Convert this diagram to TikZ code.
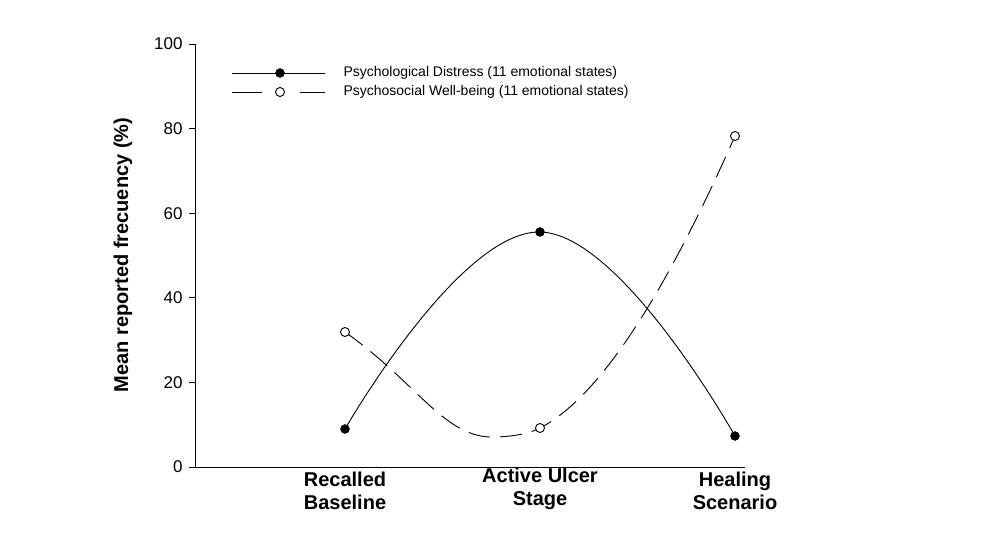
\documentclass[tikz,border=0pt]{standalone}
\usepackage{fontspec}
\setmainfont{Liberation Sans}
\begin{document}
\begin{tikzpicture}[x=1pt,y=-1pt,
  filled/.style={circle,draw=black,fill=black,inner sep=0pt,minimum size=9pt},
  hollow/.style={circle,draw=black,fill=white,line width=0.9pt,inner sep=0pt,minimum size=9pt},
  tick/.style={font=\fontsize{17}{19}\selectfont,anchor=east},
  cat/.style={font=\bfseries\fontsize{20}{23}\selectfont,align=center,anchor=north},
  dsh/.style={dash pattern=on 22pt off 10pt,line width=0.9pt}]
\useasboundingbox (0,0) rectangle (986,534);
\fill[white] (0,0) rectangle (986,534);
% axes
\draw[line width=0.9pt] (195,44) -- (195,467) -- (745,467);
\foreach \v/\yy in {0/467,20/382.4,40/297.8,60/213.2,80/128.6,100/44}{
  \draw[line width=0.9pt] (195,\yy) -- (189,\yy);
  \node[tick] at (186,\yy) {\v};
}
\node[rotate=90,font=\bfseries\fontsize{20}{22}\selectfont] (ylab) at (123,255) {Mean reported frecuency (\%)};
\node[cat] (c1) at (345,468) {Recalled\\Baseline};
\node[cat] (c2) at (540,464) {Active Ulcer\\Stage};
\node[cat] (c3) at (735,468) {Healing\\Scenario};
% curves
\draw[line width=0.9pt] plot[smooth,tension=0.75] coordinates {(345,429) (540,232) (735,436)};
\draw[dsh] (345,332) .. controls (420,385) and (445,440) .. (497,437)
  .. controls (518,436) and (530,433) .. (540,428)
  .. controls (610,392) and (680,260) .. (735,136);
\node[filled] (d1) at (345,429) {};
\node[filled] (d2) at (540,232) {};
\node[filled] (d3) at (735,436) {};
\node[hollow] (w1) at (345,332) {};
\node[hollow] (w2) at (540,428) {};
\node[hollow] (w3) at (735,136) {};
% legend
\draw[line width=0.9pt] (232,73) -- (325,73);
\node[filled] (l1) at (280,73) {};
\draw[line width=0.9pt] (232,92) -- (262,92) (300,92) -- (325,92);
\node[hollow] (l2) at (280,92) {};
\node[anchor=west,font=\fontsize{14}{16}\selectfont] (t1) at (340,73) {Psychological Distress (11 emotional states)};
\node[anchor=west,font=\fontsize{14}{16}\selectfont] (t2) at (340,92) {Psychosocial Well-being (11 emotional states)};
\end{tikzpicture}
\end{document}
